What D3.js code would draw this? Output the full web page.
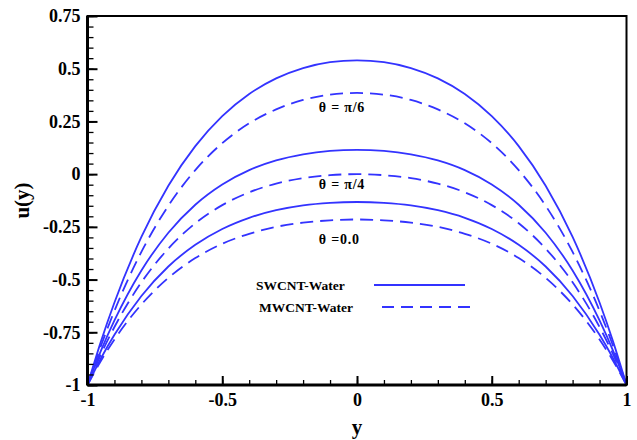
<!DOCTYPE html>
<html>
<head>
<meta charset="utf-8">
<script src="https://d3js.org/d3.v7.min.js"></script>
<style>
  body { margin: 0; background: #fff; }
  text { font-family: "Liberation Serif", "Times New Roman", serif; font-weight: bold; }
</style>
</head>
<body>
<div id="chart"></div>
<script>
// y positions across the channel (x axis)
var yPos = [-1, -0.95, -0.9, -0.8, -0.7, -0.6, -0.5, -0.4, -0.3, -0.2, -0.1, 0,
            0.1, 0.2, 0.3, 0.4, 0.5, 0.6, 0.7, 0.8, 0.9, 0.95, 1];

// velocity profiles (symmetric about y = 0)
var swPi6 = [-1, -0.793, -0.609, -0.298, -0.055, 0.133, 0.275, 0.380, 0.454, 0.503, 0.531, 0.540,
             0.531, 0.503, 0.454, 0.380, 0.275, 0.133, -0.055, -0.298, -0.609, -0.793, -1];
var mwPi6 = [-1, -0.814, -0.648, -0.369, -0.150, 0.019, 0.147, 0.241, 0.307, 0.352, 0.377, 0.385,
             0.377, 0.352, 0.307, 0.241, 0.147, 0.019, -0.150, -0.369, -0.648, -0.814, -1];
var swPi4 = [-1, -0.837, -0.694, -0.457, -0.278, -0.145, -0.049, 0.019, 0.065, 0.094, 0.110, 0.115,
             0.110, 0.094, 0.065, 0.019, -0.049, -0.145, -0.278, -0.457, -0.694, -0.837, -1];
var mwPi4 = [-1, -0.854, -0.725, -0.513, -0.353, -0.233, -0.147, -0.086, -0.045, -0.019, -0.005, 0.0,
             -0.005, -0.019, -0.045, -0.086, -0.147, -0.233, -0.353, -0.513, -0.725, -0.854, -1];
var sw0 = [-1, -0.873, -0.762, -0.578, -0.438, -0.335, -0.260, -0.207, -0.171, -0.148, -0.136, -0.132,
           -0.136, -0.148, -0.171, -0.207, -0.260, -0.335, -0.438, -0.578, -0.762, -0.873, -1];
var mw0 = [-1, -0.885, -0.784, -0.618, -0.492, -0.398, -0.330, -0.283, -0.250, -0.230, -0.219, -0.215,
           -0.219, -0.230, -0.250, -0.283, -0.330, -0.398, -0.492, -0.618, -0.784, -0.885, -1];

var xTicks = [-1, -0.5, 0, 0.5, 1];
var xTickLabels = ["-1", "-0.5", "0", "0.5", "1"];
var yTicks = [-1, -0.75, -0.5, -0.25, 0, 0.25, 0.5, 0.75];
var yTickLabels = ["-1", "-0.75", "-0.5", "-0.25", "0", "0.25", "0.5", "0.75"];

var series = [
  {vals: swPi6, dashed: false}, {vals: mwPi6, dashed: true},
  {vals: swPi4, dashed: false}, {vals: mwPi4, dashed: true},
  {vals: sw0, dashed: false},   {vals: mw0, dashed: true}
];

var W = 637, H = 440;
var margin = {top: 16, right: 10.5, bottom: 55, left: 87.5},
    width = W - margin.left - margin.right,
    height = H - margin.top - margin.bottom;

var svg = d3.select("#chart").append("svg")
    .attr("width", W).attr("height", H)
  .append("g")
    .attr("transform", "translate(" + margin.left + "," + margin.top + ")");

var x = d3.scaleLinear().domain([-1, 1]).range([0, width]);
var y = d3.scaleLinear().domain([-1, 0.75]).range([height, 0]);

var blue = "#3333ff";

// curves
var line = d3.line()
    .x(function(d, i) { return x(yPos[i]); })
    .y(function(d) { return y(d); })
    .curve(d3.curveMonotoneX);

svg.selectAll("path.curve")
  .data(series)
  .enter().append("path")
    .attr("class", "curve")
    .attr("d", function(d) { return line(d.vals); })
    .attr("fill", "none")
    .attr("stroke", blue)
    .attr("stroke-width", 1.8)
    .attr("stroke-dasharray", function(d) { return d.dashed ? "13,7" : null; });

// minor ticks
svg.append("g")
  .attr("transform", "translate(0," + height + ")")
  .call(d3.axisBottom(x).tickValues(d3.range(-10, 11).map(function(i) { return i / 10; }))
        .tickSize(-5).tickFormat(""))
  .call(function(g) { g.select(".domain").remove(); g.selectAll("line").attr("stroke-width", 1.3); });
svg.append("g")
  .call(d3.axisLeft(y).tickValues(d3.range(-20, 16).map(function(i) { return i / 20; }))
        .tickSize(-6).tickFormat(""))
  .call(function(g) { g.select(".domain").remove(); g.selectAll("line").attr("stroke-width", 1.3); });

// major ticks + labels
var xAxis = svg.append("g")
  .attr("transform", "translate(0," + height + ")")
  .call(d3.axisBottom(x).tickValues(xTicks).tickSize(-9).tickPadding(8)
        .tickFormat(function(d, i) { return xTickLabels[i]; }));
xAxis.select(".domain").remove();
xAxis.selectAll("line").attr("stroke-width", 2);
xAxis.selectAll("text").attr("font-size", 18).attr("fill", "#000")
  .style("font-family", "'Liberation Serif', serif").style("font-weight", "bold");

var yAxis = svg.append("g")
  .call(d3.axisLeft(y).tickValues(yTicks).tickSize(-10).tickPadding(7)
        .tickFormat(function(d, i) { return yTickLabels[i]; }));
yAxis.select(".domain").remove();
yAxis.selectAll("line").attr("stroke-width", 2);
yAxis.selectAll("text").attr("font-size", 18).attr("fill", "#000")
  .style("font-family", "'Liberation Serif', serif").style("font-weight", "bold");

// frame
svg.append("rect")
  .attr("x", 0).attr("y", 0).attr("width", width).attr("height", height)
  .attr("fill", "none").attr("stroke", "#000").attr("stroke-width", 2);
svg.append("line").attr("x1", 0).attr("x2", 0).attr("y1", 0).attr("y2", height)
  .attr("stroke", "#000").attr("stroke-width", 3);
svg.append("line").attr("x1", 0).attr("x2", width).attr("y1", height).attr("y2", height)
  .attr("stroke", "#000").attr("stroke-width", 3);

// curve labels
var labels = [
  {t: "θ = π/6", v: 0.295},
  {t: "θ = π/4", v: -0.07},
  {t: "θ =0.0", v: -0.33}
];
svg.selectAll("text.lab")
  .data(labels)
  .enter().append("text")
    .attr("class", "lab")
    .attr("x", x(-0.142))
    .attr("y", function(d) { return y(d.v); })
    .attr("font-size", 14)
    .attr("letter-spacing", 0.8)
    .style("white-space", "pre")
    .text(function(d) { return d.t; });

// legend
var legend = [
  {t: "SWCNT-Water", dashed: false, lx: 256, x1: 374, x2: 465, ly: 290},
  {t: "MWCNT-Water", dashed: true, lx: 259, x1: 382, x2: 472, ly: 312}
];
var lg = d3.select("svg").append("g");
legend.forEach(function(d) {
  lg.append("text").attr("x", d.lx).attr("y", d.ly).attr("font-size", 13.5).text(d.t);
  lg.append("line").attr("x1", d.x1).attr("x2", d.x2)
    .attr("y1", d.ly - 5).attr("y2", d.ly - 5)
    .attr("stroke", blue).attr("stroke-width", 1.8)
    .attr("stroke-dasharray", d.dashed ? "12,7" : null);
});

// axis titles
d3.select("svg").append("text")
  .attr("x", margin.left + x(0)).attr("y", 434)
  .attr("text-anchor", "middle").attr("font-size", 21).text("y");
d3.select("svg").append("text")
  .attr("transform", "translate(29," + (margin.top + y(-0.125)) + ") rotate(-90)")
  .attr("text-anchor", "middle").attr("font-size", 21).text("u(y)");
</script>
</body>
</html>
